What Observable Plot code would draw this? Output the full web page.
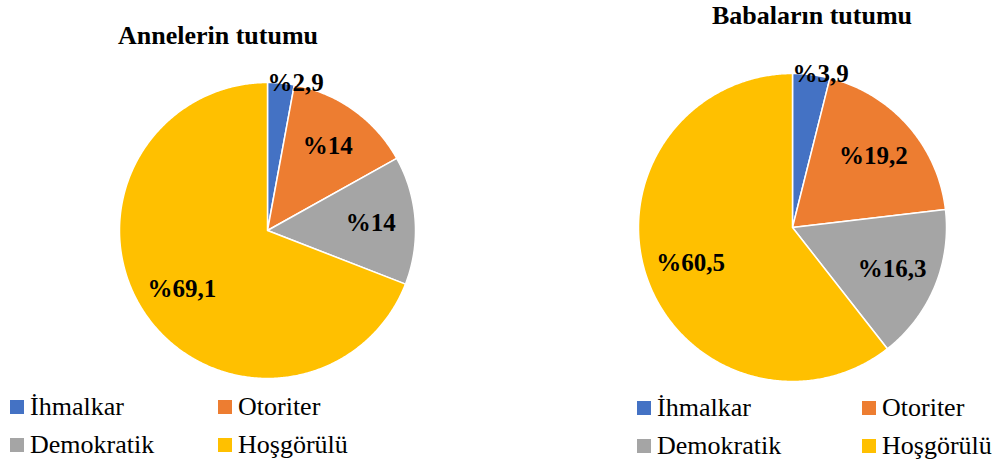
<!DOCTYPE html>
<html><head><meta charset="utf-8">
<script src="https://cdn.jsdelivr.net/npm/d3@7"></script>
<script src="https://cdn.jsdelivr.net/npm/@observablehq/plot@0.6"></script>
<style>
body{margin:0;background:#fff}
#c{position:relative;width:997px;height:464px;overflow:hidden;font-family:"Liberation Serif","Times New Roman",serif;color:#000;background:#fff}
.title{position:absolute;font-weight:bold;font-size:26px;line-height:30px;text-align:center;white-space:nowrap}
.pie{position:absolute}
.leg{position:absolute}
.lg-swatches{display:grid!important;font-family:"Liberation Serif","Times New Roman",serif!important;font-size:26px!important;color:#000;margin:0!important;min-height:0!important}
.lg-swatch{display:flex!important;align-items:center;margin:0!important;height:38px;white-space:nowrap}
.lg-swatch>svg{margin-right:6px!important}
</style>
</head><body>
<div id="c"></div>
<script>
const categories = ["İhmalkar", "Otoriter", "Demokratik", "Hoşgörülü"];
const colors = ["#4472C4", "#ED7D31", "#A5A5A5", "#FFC000"];
const anneValues = [2.9, 14, 14, 69.1];
const babaValues = [3.9, 19.2, 16.3, 60.5];
const titles = ["Annelerin tutumu", "Babaların tutumu"];

const fmt = v => "%" + String(v).replace(".", ",");

function sector(a0, a1) {
  const n = Math.max(2, Math.ceil((a1 - a0) / (Math.PI / 360)));
  const ring = [[0, 0]];
  for (let i = 0; i <= n; i++) {
    const a = a0 + (a1 - a0) * i / n;
    ring.push([Math.sin(a), -Math.cos(a)]);
  }
  ring.push([0, 0]);
  return ring;
}

function piePlot(values, dims) {
  const total = d3.sum(values);
  const arcs = d3.pie().sort(null).value(d => d)(values);
  const slices = arcs.map((a, i) => ({
    type: "Feature",
    properties: {category: categories[i], value: values[i]},
    geometry: {type: "Polygon", coordinates: [sector(a.startAngle, a.endAngle)]}
  }));
  const labels = arcs.map((a, i) => {
    const small = values[i] / total < 0.05;
    const mid = (a.startAngle + a.endAngle) / 2;
    return small
      ? {x: Math.sin(a.startAngle), y: -Math.cos(a.startAngle), text: fmt(values[i]), small}
      : {x: 0.7 * Math.sin(mid), y: -0.7 * Math.cos(mid), text: fmt(values[i]), small};
  });
  const textOpts = {fontFamily: "Liberation Serif, Times New Roman, serif", fontWeight: "bold", fontSize: 25, fill: "#000", lineAnchor: "middle"};
  return Plot.plot({
    ...dims,
    style: {overflow: "visible", background: "transparent"},
    projection: {type: "identity", domain: {type: "MultiPoint", coordinates: [[-1, -1], [1, 1]]}, clip: false},
    color: {domain: categories, range: colors},
    marks: [
      Plot.geo(slices, {fill: d => d.properties.category, stroke: "white", strokeWidth: 1.5}),
      Plot.text(labels.filter(d => !d.small), {x: "x", y: "y", text: "text", textAnchor: "middle", ...textOpts}),
      Plot.text(labels.filter(d => d.small), {x: "x", y: "y", text: "text", textAnchor: "start", ...textOpts})
    ]
  });
}

const root = document.getElementById("c");

function place(el, cls, left, top, extra = {}) {
  el.classList.add(cls);
  el.style.left = left + "px";
  el.style.top = top + "px";
  Object.assign(el.style, extra);
  root.appendChild(el);
  return el;
}

// titles
const t1 = document.createElement("div"); t1.textContent = titles[0];
place(t1, "title", 0, 21, {width: "436px"});
const t2 = document.createElement("div"); t2.textContent = titles[1];
place(t2, "title", 612, 1, {width: "400px"});

// pies
const p1 = piePlot(anneValues, {width: 500, height: 330, marginLeft: 119, marginTop: 22, marginRight: 85, marginBottom: 12});
place(p1, "pie", 0, 60);
const p2 = piePlot(babaValues, {width: 497, height: 340, marginLeft: 138, marginTop: 13, marginRight: 51, marginBottom: 19});
place(p2, "pie", 500, 60);

// legends
function legend(cols) {
  const lg = Plot.legend({color: {domain: categories, range: colors}, legend: "swatches", swatchSize: 14, className: "lg"});
  lg.style.gridTemplateColumns = cols;
  return lg;
}
place(legend("208px 208px"), "leg", 10, 388);
place(legend("225px 172px"), "leg", 637, 389);
</script>
</body></html>
